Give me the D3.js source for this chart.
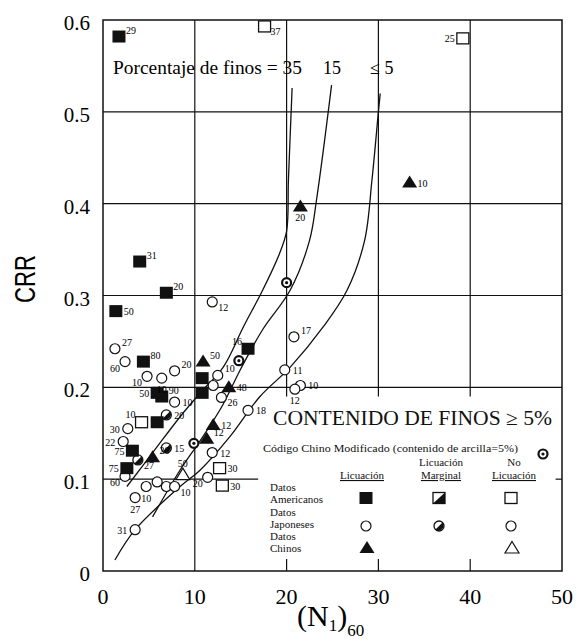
<!DOCTYPE html>
<html><head><meta charset="utf-8">
<script src="https://cdn.jsdelivr.net/npm/d3@7"></script>
<style>body{margin:0;background:#fff}svg{display:block}
.sf{font-family:"Liberation Serif","Times New Roman","DejaVu Serif",serif}
.ss{font-family:"Liberation Sans",Arial,"DejaVu Sans",sans-serif}</style>
</head><body>
<svg id="c" width="576" height="639"></svg>
<script>
// ---- axis ticks ----
const xTicks = [0, 10, 20, 30, 40, 50];
const yTicks = [0, 0.1, 0.2, 0.3, 0.4, 0.5, 0.6];

// ---- boundary curves: [(N1)60, CRR] for fines content 35%, 15%, <=5% ----
const curve35 = [[2.6,0.092],[5.5,0.13],[8.4,0.168],[10.6,0.194],[13.1,0.222],[15.3,0.266],[17.4,0.306],[19.2,0.345],[20.0,0.37],[20.2,0.426],[20.6,0.526]];
const curve15 = [[5.4,0.059],[8.4,0.11],[10.6,0.142],[13.0,0.18],[15.0,0.22],[17.4,0.263],[20.4,0.306],[22.5,0.36],[23.3,0.407],[24.9,0.529]];
const curve5  = [[1.3,0.012],[3.5,0.045],[8.4,0.092],[10.6,0.11],[13.8,0.146],[17.1,0.19],[20.4,0.222],[24.0,0.266],[26.6,0.306],[28.5,0.36],[29.3,0.426],[30.0,0.5],[30.2,0.52]];

// ---- field cases: [(N1)60, CRR, fines label] ----
const usLiq = [[1.74,0.582,"29"],[4.0,0.337,"31"],[6.9,0.303,"20"],[1.4,0.283,"50"],[4.4,0.228,"80"],[5.9,0.194,"50"],[6.4,0.19,"90"],[5.9,0.162,""],[3.2,0.131,"75"],[2.6,0.112,"75"],[10.8,0.21,""],[10.8,0.194,""],[15.8,0.242,"16"]];
const usNoLiq = [[17.6,0.593,"37"],[39.2,0.58,"25"],[4.2,0.162,"10"],[12.7,0.112,"30"],[13.0,0.093,"30"]];
const jpNoLiq = [[1.3,0.242,"27"],[2.4,0.228,"60"],[7.8,0.218,"20"],[4.8,0.212,"10"],[6.4,0.210,"10"],[7.8,0.184,"10"],[2.7,0.155,"30"],[2.2,0.141,"22"],[2.4,0.103,"60"],[3.5,0.08,"27"],[4.7,0.092,"10"],[5.9,0.097,""],[6.9,0.092,""],[7.8,0.092,"10"],[3.5,0.045,"31"],[12.5,0.213,"10"],[12.0,0.202,""],[12.9,0.189,"26"],[15.8,0.175,"18"],[11.9,0.129,"12"],[11.4,0.102,"20"],[11.9,0.293,"12"],[20.8,0.255,"17"],[19.8,0.219,"11"],[21.5,0.202,"10"],[20.9,0.198,"12"]];
const jpMarginal = [[6.9,0.17,"20"],[3.8,0.121,"27"],[6.9,0.134,"15"]];
const cnLiq = [[33.4,0.423,"10"],[21.5,0.397,"20"],[10.9,0.228,"50"],[13.7,0.2,"48"],[12.0,0.159,"12"],[11.3,0.144,"12"],[5.4,0.124,"20"]];
const cnNoLiq = [[8.7,0.105,"50"]];
const clayCode = [[20.0,0.314],[14.8,0.229],[9.9,0.139]];

const svg = d3.select("#c");
const x = d3.scaleLinear().domain([0, 50]).range([103, 562]);
const y = d3.scaleLinear().domain([0, 0.6]).range([571, 20]);

// grid: horizontal lines
const g = svg.append("g").attr("stroke", "#111").attr("stroke-width", 1.2);
[0.2, 0.3, 0.4, 0.5].forEach(v => g.append("line").attr("x1", x(0)).attr("x2", x(50)).attr("y1", y(v)).attr("y2", y(v)));
g.append("line").attr("x1", x(0)).attr("x2", x(16.9)).attr("y1", y(0.1)).attr("y2", y(0.1));
g.append("line").attr("x1", x(49.3)).attr("x2", x(50)).attr("y1", y(0.1)).attr("y2", y(0.1));
// grid: vertical lines (interrupted by the legend)
g.append("line").attr("x1", x(10)).attr("x2", x(10)).attr("y1", y(0.6)).attr("y2", y(0));
[20, 30, 40].forEach(v => {
  g.append("line").attr("x1", x(v)).attr("x2", x(v)).attr("y1", y(0.6)).attr("y2", y(0.19));
  g.append("line").attr("x1", x(v)).attr("x2", x(v)).attr("y1", y(0.013)).attr("y2", y(0));
});
// frame
svg.append("rect").attr("x", x(0)).attr("y", y(0.6)).attr("width", x(50) - x(0)).attr("height", y(0) - y(0.6))
  .attr("fill", "none").attr("stroke", "#111").attr("stroke-width", 1.5);

// tick labels
svg.append("g").attr("class", "sf").selectAll("text").data(xTicks).join("text")
  .attr("x", d => x(d)).attr("y", 604).attr("text-anchor", "middle")
  .attr("font-size", 22).text(d => d);
svg.append("g").attr("class", "sf").selectAll("text").data(yTicks).join("text")
  .attr("x", 90).attr("y", d => y(d) + 10).attr("text-anchor", "end")
  .attr("font-size", 21).text(d => d === 0 ? "0" : d.toFixed(1));

// axis titles
const xt = svg.append("text").attr("class", "sf").attr("x", 297).attr("y", 626).attr("font-size", 30);
xt.append("tspan").text("(N");
xt.append("tspan").attr("font-size", 17).attr("dy", 5).text("1");
xt.append("tspan").attr("dy", -5).text(")");
xt.append("tspan").attr("font-size", 17).attr("dy", 10).text("60");
svg.append("text").attr("class", "ss").attr("transform", "translate(35,279) rotate(-90)").attr("text-anchor", "middle")
  .attr("font-size", 30).attr("textLength", 48).attr("lengthAdjust", "spacingAndGlyphs").text("CRR");

// boundary curves
const line = d3.line().x(d => x(d[0])).y(d => y(d[1])).curve(d3.curveCatmullRom);
[curve35, curve15, curve5].forEach(c => svg.append("path").attr("d", line(c))
  .attr("fill", "none").attr("stroke", "#111").attr("stroke-width", 1.3));

const T = svg.append("g").attr("class", "sf").attr("font-size", 18);
T.append("text").attr("x", 113).attr("y", 74).attr("textLength", 189).attr("lengthAdjust", "spacingAndGlyphs").text("Porcentaje de finos = 35");
T.append("text").attr("x", 323).attr("y", 74).text("15");
T.append("text").attr("x", 370).attr("y", 74).text("\u2264 5");

// marker drawing helpers
function sqFilled(s, cx, cy) { s.append("rect").attr("x", cx - 6.5).attr("y", cy - 6).attr("width", 13).attr("height", 12).attr("fill", "#111"); }
function sqOpen(s, cx, cy) { s.append("rect").attr("x", cx - 6).attr("y", cy - 5.5).attr("width", 12).attr("height", 11).attr("fill", "#fff").attr("stroke", "#111").attr("stroke-width", 1.3); }
function sqHalf(s, cx, cy) {
  s.append("rect").attr("x", cx - 6).attr("y", cy - 5.5).attr("width", 12).attr("height", 11).attr("fill", "#fff").attr("stroke", "#111").attr("stroke-width", 1.3);
  s.append("path").attr("d", `M${cx + 6},${cy - 5.5}L${cx + 6},${cy + 5.5}L${cx - 6},${cy + 5.5}Z`).attr("fill", "#111");
}
function circOpen(s, cx, cy) { s.append("circle").attr("cx", cx).attr("cy", cy).attr("r", 5).attr("fill", "#fff").attr("stroke", "#111").attr("stroke-width", 1.2); }
function circHalf(s, cx, cy) {
  s.append("circle").attr("cx", cx).attr("cy", cy).attr("r", 5).attr("fill", "#fff").attr("stroke", "#111").attr("stroke-width", 1.3);
  s.append("path").attr("d", `M${cx + 3.5},${cy - 3.5}A5,5 0 0 1 ${cx - 3.5},${cy + 3.5}Z`).attr("fill", "#111");
}
function circDouble(s, cx, cy) {
  s.append("circle").attr("cx", cx).attr("cy", cy).attr("r", 4.5).attr("fill", "#fff").attr("stroke", "#111").attr("stroke-width", 2.2);
  s.append("circle").attr("cx", cx).attr("cy", cy).attr("r", 1.6).attr("fill", "#111");
}
function triFilled(s, cx, cy) { s.append("path").attr("d", `M${cx},${cy - 7}L${cx + 7.5},${cy + 5}L${cx - 7.5},${cy + 5}Z`).attr("fill", "#111"); }
function triOpen(s, cx, cy) { s.append("path").attr("d", `M${cx},${cy - 6.5}L${cx + 7},${cy + 5}L${cx - 7},${cy + 5}Z`).attr("fill", "#fff").attr("stroke", "#111").attr("stroke-width", 1.2); }

// label placement around a marker
const spots = { r: [8, 4, "start"], ru: [7, -3, "start"], rd: [6, 9, "start"], l: [-8, 4, "end"], lu: [-6, -4, "end"], ld: [-5, 10, "end"], a: [0, -8, "middle"], b: [0, 15, "middle"] };
function labels(s, data, where) {
  data.forEach((d, i) => {
    if (!d[2]) return;
    const p = spots[where[i] || "r"];
    s.append("text").attr("class", "sf").attr("x", x(d[0]) + p[0]).attr("y", y(d[1]) + p[1]).attr("text-anchor", p[2])
      .attr("font-size", 10).text(d[2]);
  });
}

const m = svg.append("g");
jpNoLiq.forEach(d => circOpen(m, x(d[0]), y(d[1])));
jpMarginal.forEach(d => circHalf(m, x(d[0]), y(d[1])));
clayCode.forEach(d => circDouble(m, x(d[0]), y(d[1])));
usNoLiq.forEach(d => sqOpen(m, x(d[0]), y(d[1])));
usLiq.forEach(d => sqFilled(m, x(d[0]), y(d[1])));
cnLiq.forEach(d => triFilled(m, x(d[0]), y(d[1])));
cnNoLiq.forEach(d => triOpen(m, x(d[0]), y(d[1])));

labels(m, usLiq, ["ru","ru","ru","r","ru","l","ru","r","l","l","r","r","lu"]);
labels(m, usNoLiq, ["rd","l","lu","r","r"]);
labels(m, jpNoLiq, ["ru","ld","ru","ld","b","r","l","l","ld","b","b","b","b","rd","l","ru","r","rd","r","r","ld","rd","ru","r","r","b"]);
labels(m, jpMarginal, ["r","rd","r"]);
labels(m, cnLiq, ["r","b","ru","r","r","ru","ru"]);
labels(m, cnNoLiq, ["a"]);

// legend
const L = svg.append("g").attr("class", "sf").attr("fill", "#111");
L.append("text").attr("x", 273).attr("y", 425).attr("font-size", 20).attr("textLength", 279).attr("lengthAdjust", "spacingAndGlyphs").text("CONTENIDO DE FINOS \u2265 5%");
L.append("text").attr("x", 263).attr("y", 452).attr("font-size", 11).attr("textLength", 255).attr("lengthAdjust", "spacingAndGlyphs").text("Código Chino Modificado (contenido de arcilla=5%)");
circDouble(L, 543, 454);
const hdr = [[362, null, "Licuación"], [441, "Licuación", "Marginal"], [514, "No", "Licuación"]];
hdr.forEach(h => {
  if (h[1]) L.append("text").attr("x", h[0]).attr("y", 466).attr("text-anchor", "middle").attr("font-size", 11).text(h[1]);
  L.append("text").attr("x", h[0]).attr("y", 479).attr("text-anchor", "middle").attr("font-size", 11)
    .attr("text-decoration", "underline").text(h[2]);
});
[["Datos", 491], ["Americanos", 503], ["Datos", 516], ["Japoneses", 528], ["Datos", 540], ["Chinos", 552]]
  .forEach(t => L.append("text").attr("x", 270).attr("y", t[1]).attr("font-size", 11).text(t[0]));
sqFilled(L, 366, 498); sqHalf(L, 439, 498); sqOpen(L, 511, 498);
circOpen(L, 366, 526); circHalf(L, 439, 526); circOpen(L, 511, 526);
triFilled(L, 367, 548); triOpen(L, 512, 548);
</script>
</body></html>
